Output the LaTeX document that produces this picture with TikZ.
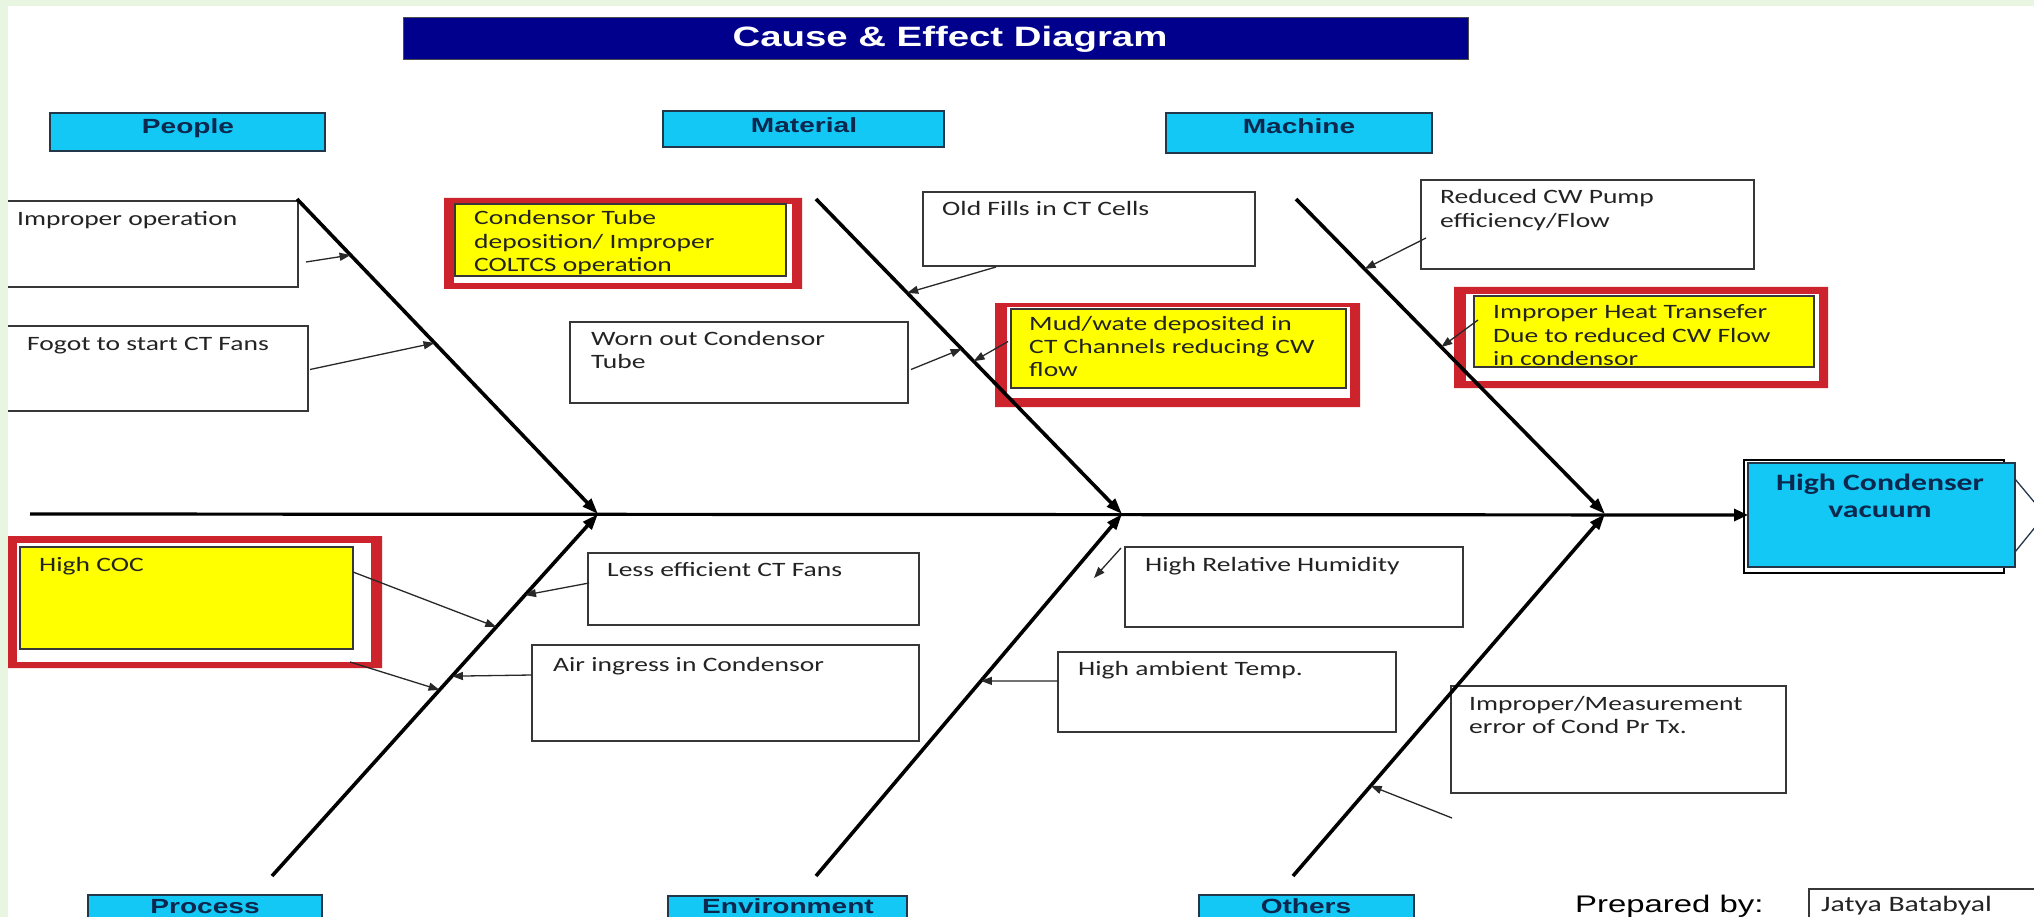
\documentclass[tikz,border=0pt]{standalone}
\usepackage{fontspec}
\usetikzlibrary{arrows.meta,calc,fit}

\newfontfamily\notefont{Carlito}[FakeStretch=1.35]
\newfontfamily\labelfont{Liberation Sans}[FakeStretch=1.37]

\definecolor{pagegreen}{RGB}{232,245,224}
\definecolor{titlenavy}{RGB}{0,0,140}
\definecolor{catcyan}{RGB}{20,200,245}
\definecolor{catline}{RGB}{35,55,75}
\definecolor{catink}{RGB}{12,40,78}
\definecolor{hotred}{RGB}{205,35,45}
\definecolor{hotyellow}{RGB}{255,255,0}
\definecolor{boxline}{RGB}{55,55,55}
\definecolor{ink}{RGB}{35,35,35}
\definecolor{twigline}{RGB}{40,40,40}

% multi-line text whose baseline is the first line
\newcommand\rows[1]{\begin{tabular}[t]{@{}l@{}}#1\end{tabular}}

\begin{document}
\begin{tikzpicture}[x=1pt,y=-1pt,
  area/.style={inner sep=0pt, outer sep=0pt},
  causebox/.style={area, draw=boxline, line width=1.8pt, fill=white},
  hotbox/.style={area, draw=boxline, line width=1.6pt, fill=hotyellow},
  catbox/.style={area, draw=catline, line width=1.8pt, fill=catcyan},
  note/.style={anchor=base west, inner sep=0pt, text=ink, font=\notefont\fontsize{20.4}{23.5}\selectfont},
  catlabel/.style={anchor=base, inner sep=0pt, text=catink, font=\labelfont\bfseries\fontsize{20.5}{23}\selectfont},
  bone/.style={line width=3.6pt, -{Triangle[length=16pt,width=11pt]}},
  twig/.style={draw=twigline, line width=1.3pt, -{Triangle[length=11pt,width=8pt]}},
]
\useasboundingbox (0,0) rectangle (2034,917);
\clip (0,0) rectangle (2034,917);
\fill[white] (0,0) rectangle (2034,917);

% ---------- title ----------
\node[area, fill=titlenavy, draw=black!70, line width=1pt, fit={(403,18) (1468,60)}] (titlebar) {};
\node[anchor=base, inner sep=0pt, text=white, font=\labelfont\bfseries\fontsize{28}{32}\selectfont] (title) at (950,47) {Cause \& Effect Diagram};

% ---------- category headers ----------
\node[catbox, fit={(50,113) (325,151)}] (people) {};
\node[catlabel] (peopleT) at (188,134) {People};
\node[catbox, fit={(663,111) (944,147)}] (material) {};
\node[catlabel] (materialT) at (804,133) {Material};
\node[catbox, fit={(1166,113) (1432,153)}] (machine) {};
\node[catlabel] (machineT) at (1299,134) {Machine};
\node[catbox, fit={(88,895) (322,935)}] (process) {};
\node[catlabel] (processT) at (205,913) {Process};
\node[catbox, fit={(668,896) (907,935)}] (environment) {};
\node[catlabel] (environmentT) at (788,913) {Environment};
\node[catbox, fit={(1199,895) (1414,935)}] (others) {};
\node[catlabel] (othersT) at (1306,913) {Others};

% ---------- plain cause boxes ----------
\node[causebox, fit={(-5,201) (298,287)}] (ops) {};
\node[note] (opsT) at (17,226) {Improper operation};
\node[causebox, fit={(-5,326) (308,411)}] (fans) {};
\node[note] (fansT) at (27,350) {Fogot to start CT Fans};
\node[causebox, fit={(570,322) (908,403)}] (worn) {};
\node[note] (wornT) at (591,345) {\rows{Worn out Condensor\\Tube}};
\node[causebox, fit={(923,192) (1255,266)}] (fills) {};
\node[note] (fillsT) at (942,216) {Old Fills in CT Cells};
\node[causebox, fit={(1421,180) (1754,269)}] (pump) {};
\node[note] (pumpT) at (1440,204) {\rows{Reduced CW Pump\\efficiency/Flow}};
\node[causebox, fit={(588,553) (919,625)}] (lessfan) {};
\node[note] (lessfanT) at (607,576) {Less efficient CT Fans};
\node[causebox, fit={(532,645) (919,741)}] (air) {};
\node[note] (airT) at (553,671) {Air ingress in Condensor};
\node[causebox, fit={(1125,547) (1463,627)}] (humid) {};
\node[note] (humidT) at (1145,571) {High Relative Humidity};
\node[causebox, fit={(1058,652) (1396,732)}] (ambient) {};
\node[note] (ambientT) at (1078,675) {High ambient Temp.};
\node[causebox, fit={(1451,686) (1786,793)}] (meas) {};
\node[note] (measT) at (1469,710) {\rows{Improper/Measurement\\error of Cond Pr Tx.}};

% ---------- highlighted causes: red frame, white margin, yellow box ----------
\fill[hotred, even odd rule] (444,198) rectangle (802,289) (454,204) rectangle (792,283);
\fill[white] (454,204) rectangle (792,283);
\node[hotbox, fit={(455,204) (786,276)}] (tube) {};
\node[note] (tubeT) at (474,225) {\rows{Condensor Tube\\deposition/ Improper\\COLTCS operation}};

\fill[hotred, even odd rule] (995,303) rectangle (1360,407) (1007,307) rectangle (1350,398);
\fill[white] (1007,307) rectangle (1350,398);
\node[hotbox, fit={(1011,309) (1346,388)}] (mud) {};
\node[note] (mudT) at (1029,330) {\rows{Mud/wate deposited in\\CT Channels reducing CW\\flow}};

\fill[hotred, even odd rule] (1454,287) rectangle (1828,388) (1466,294) rectangle (1819,381);
\fill[white] (1466,294) rectangle (1819,381);
\node[hotbox, fit={(1474,296) (1814,367)}] (heat) {};
\node[note] (heatT) at (1493,319) {\rows{Improper Heat Transefer\\Due to reduced CW Flow\\in condensor}};

\fill[hotred, even odd rule] (8,536) rectangle (382,668) (17,543) rectangle (371,662);
\fill[white] (17,543) rectangle (371,662);
\coordinate (cocframe) at (382,668);
\node[hotbox, fit={(20,547) (353,649)}] (coc) {};
\node[note] (cocT) at (39,571) {High COC};

% ---------- effect ----------
\node[area, draw=black, line width=1.5pt, fill=white, fit={(1744,460) (2004,573)}] (effback) {};
\node[area, draw=catline, line width=1.8pt, fill=catcyan, fit={(1748,463) (2015,567)}] (effect) {};
\draw[draw=catline, line width=1.3pt] ($(effect.north east)+(0,16)$) -- ($(effect.east)+(30,0)$) -- ($(effect.south east)+(0,-15)$);
\node[anchor=base, inner sep=0pt, text=catink, font=\notefont\bfseries\fontsize{23.5}{27}\selectfont] (effectT) at (1880,490) {\begin{tabular}[t]{@{}c@{}}High Condenser\\vacuum\end{tabular}};

% ---------- spine and bones ----------
\coordinate (tail) at (30,514);
\coordinate (J1) at (598,514);
\coordinate (J2) at (1122,514);
\coordinate (J3) at (1605,514);
\coordinate (peopleTop) at (297,199);
\coordinate (materialTop) at (816,199);
\coordinate (machineTop) at (1296,199);
\coordinate (processEnd) at (272,876);
\coordinate (environmentEnd) at (816,876);
\coordinate (othersEnd) at (1293,876);

\draw[line width=3.2pt, -{Triangle[length=14pt,width=12pt]}] (tail) -- (effect.west);
\draw[bone] (peopleTop) -- (J1);
\draw[bone] (materialTop) -- (J2);
\draw[bone] (machineTop) -- (J3);
\draw[bone] (processEnd) -- (J1);
\draw[bone] (environmentEnd) -- (J2);
\draw[bone] (othersEnd) -- (J3);

% ---------- cause arrows onto the bones ----------
\draw[twig] ($(ops.south east)+(8,-25)$) -- ($(peopleTop)!0.178!(J1)$);
\draw[twig] ($(fans.east)+(2,1)$) -- ($(peopleTop)!0.457!(J1)$);
\draw[twig] ($(fills.south west)+(73,1)$) -- ($(materialTop)!0.298!(J2)$);
\draw[twig] ($(worn.east)+(3,7)$) -- ($(materialTop)!0.476!(J2)$);
\draw[twig] ($(mud.west)+(-3,-7)$) -- ($(materialTop)!0.515!(J2)$);
\draw[twig] ($(pump.west)+(5,13.5)$) -- ($(machineTop)!0.222!(J3)$);
\draw[twig] ($(heat.west)+(4,-11.5)$) -- ($(machineTop)!0.47!(J3)$);
\draw[twig] ($(coc.east)+(0,-26)$) -- ($(processEnd)!0.688!(J1)$);
\draw[twig] ($(cocframe)+(-32,-6)$) -- ($(processEnd)!0.514!(J1)$);
\draw[twig] ($(lessfan.west)+(1,-6)$) -- ($(processEnd)!0.776!(J1)$);
\draw[twig] ($(air.west)+(0,-18)$) -- ($(processEnd)!0.552!(J1)$);
\coordinate (humidTip) at (1094,578);
\draw[twig] ($(humid.north west)+(-4,1)$) -- (humidTip);
\draw[twig] ($(ambient.west)+(0,-11)$) -- ($(environmentEnd)!0.539!(J2)$);
\draw[twig] ($(meas.south west)+(1,25)$) -- ($(othersEnd)!0.249!(J3)$);

% ---------- footer ----------
\node[anchor=base west, inner sep=0pt, text=black, font=\labelfont\fontsize{24}{28}\selectfont] (prepared) at (1575,912) {Prepared by:};
\node[causebox, fit={(1809,889) (2045,935)}] (author) {};
\node[anchor=base west, inner sep=0pt, text=ink, font=\notefont\fontsize{22}{26}\selectfont] (authorT) at (1821,911) {Jatya Batabyal};

% ---------- page edge ----------
\fill[pagegreen] (0,0) rectangle (8,917);
\fill[pagegreen] (0,0) rectangle (2034,6);
\end{tikzpicture}
\end{document}
